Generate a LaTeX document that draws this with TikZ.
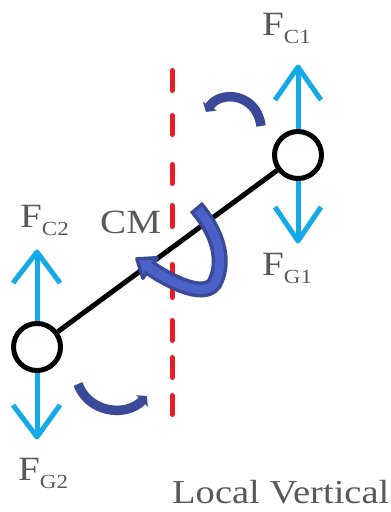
\documentclass[tikz,border=0pt]{standalone}
\usepackage{fontspec}
\setmainfont{Liberation Serif}[FakeStretch=1.15]
\usetikzlibrary{arrows.meta,calc}
\definecolor{cyanF}{RGB}{20,170,232}
\definecolor{redV}{RGB}{236,28,36}
\definecolor{blueD}{RGB}{58,74,152}
\definecolor{blueL}{RGB}{74,98,200}
\definecolor{txt}{RGB}{89,89,89}
\newcommand\myF[1]{F\raisebox{-8pt}{\fontsize{20}{20}\selectfont #1}}
\tikzset{
  ball/.style={circle,draw=black,line width=5pt,fill=white,minimum size=47pt,inner sep=0pt},
  force/.style={draw=cyanF,line width=5pt,line join=round},
  vdash/.style={draw=redV,line width=5pt,line cap=round},
  rod/.style={draw=black,line width=5pt},
  rot/.style={draw=blueD,line width=9.5pt,-{Triangle[width=16pt,length=7pt]}},
  lab/.style={text=txt,font=\fontsize{34}{34}\selectfont,inner sep=0pt,anchor=base west},
}
\begin{document}
\begin{tikzpicture}[x=1pt,y=-1pt]
\useasboundingbox (0,0) rectangle (391,512);
% local vertical
\foreach \a/\b in {68/93,113/137,162/186,203/229,262/300,318/343,355/380,393/417}
  \draw[vdash] (172,\a+2.5) -- (172,\b-2.5);
% masses
\node[ball] (R) at (298,155) {};
\node[ball] (L) at (37,347) {};
\draw[rod] (L) -- (R);
% forces
\coordinate (RT) at (298,67);
\coordinate (RB) at (298,241);
\coordinate (LT) at (37,252);
\coordinate (LB) at (37,437);
\draw[force] (R) -- (RT);
\draw[force] ($(RT)+(-23,33)$) -- (RT) -- ($(RT)+(23,33)$);
\draw[force] (R) -- (RB);
\draw[force] ($(RB)+(-23,-34)$) -- (RB) -- ($(RB)+(23,-34)$);
\draw[force] (L) -- (LT);
\draw[force] ($(LT)+(-24,31)$) -- (LT) -- ($(LT)+(23,31)$);
\draw[force] (L) -- (LB);
\draw[force] ($(LB)+(-24,-32)$) -- (LB) -- ($(LB)+(23,-32)$);
% small rotation arrows
\draw[rot] (261,126) .. controls (257,93) and (220,90) .. (206,112);
\draw[rot] (78,384) .. controls (88,412) and (125,418) .. (147,396);
% big rotation arrow about CM
\coordinate (B) at (150,268);
\coordinate (T) at (136.9,258.9);
\coordinate (C1) at (157.1,257.75);
\coordinate (C2) at (142.9,278.25);
\coordinate (E) at (145.9,265.2);
\draw[blueD,line width=16pt] (196,207) .. controls (220,235) and (224,262) .. (216,280)
   .. controls (208,302) and (168,280.5) .. (B);
\filldraw[draw=blueD,fill=blueL,line width=3.5pt,line join=round] (T) -- (C1) -- (C2) -- cycle;
\draw[blueL,line width=9pt,shorten <=3.5pt] (196,207) .. controls (220,235) and (224,262) .. (216,280)
   .. controls (208,302) and (168,280.5) .. (B) -- (E);
% labels
\node[lab] (fc1) at (262,35) {\myF{C1}};
\node[lab] (fg1) at (262,275) {\myF{G1}};
\node[lab] (fc2) at (20,227) {\myF{C2}};
\node[lab] (fg2) at (18,480) {\myF{G2}};
\node[lab] (cm) at (100,233) {CM};
\node[lab,font=\fontsize{33.5}{33.5}\selectfont] (lv) at (172,503) {Local Vertical};
\end{tikzpicture}
\end{document}
